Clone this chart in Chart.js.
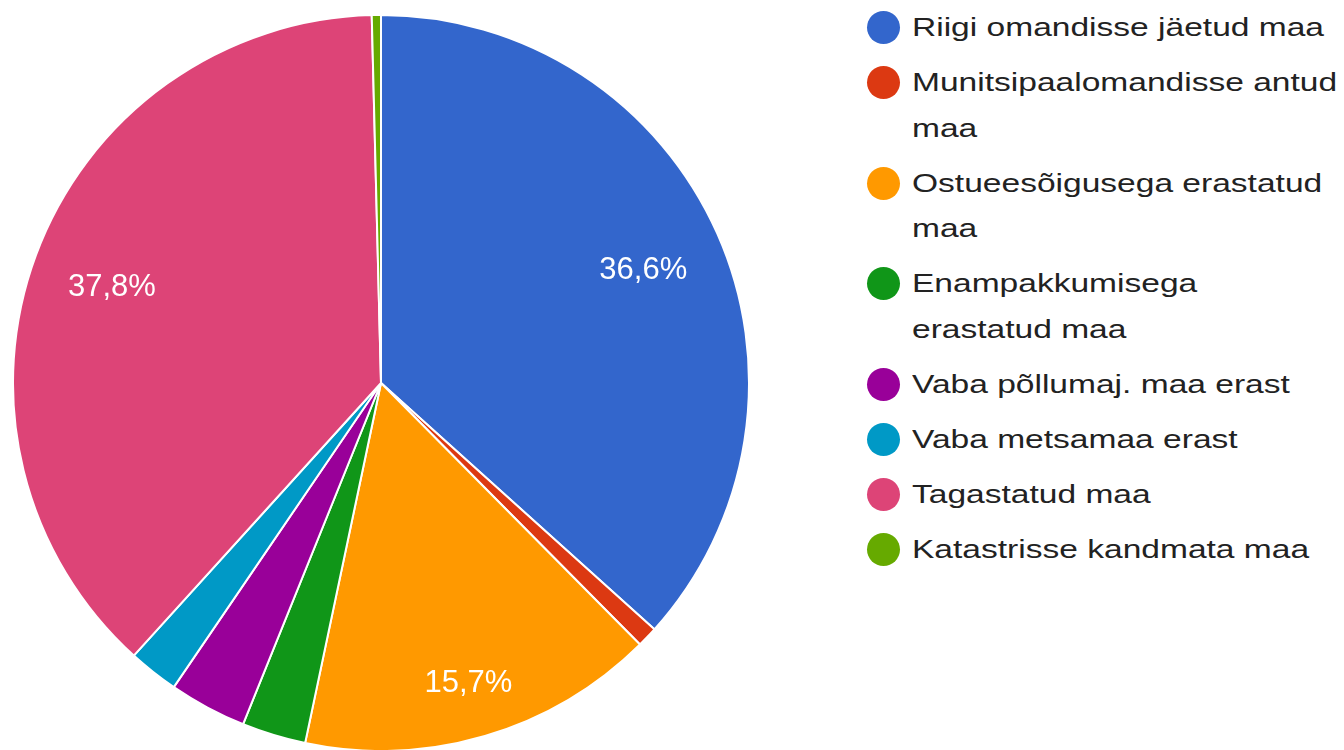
<!DOCTYPE html>
<html>
<head>
<meta charset="utf-8">
<script src="https://cdn.jsdelivr.net/npm/chart.js"></script>
<style>
  body { margin: 0; background: #fff; width: 1344px; height: 750px; overflow: hidden; position: relative; font-family: "Liberation Sans", Arial, sans-serif; }
  #wrap { position: absolute; left: 12px; top: 14px; width: 738px; height: 738px; }
  #legend { position: absolute; left: 867px; top: 5px; }
  .item { display: flex; align-items: flex-start; margin-bottom: 9.5px; }
  .dot { width: 33px; height: 33px; border-radius: 50%; margin-top: 6px; margin-right: 12px; flex: none; }
  .txt { font-size: 26px; line-height: 45.5px; color: #222; white-space: pre-line; transform: scaleX(1.29); transform-origin: left center; }
</style>
</head>
<body>
<div id="wrap"><canvas id="pie" width="738" height="738"></canvas></div>
<div id="legend"></div>
<script>
var kategooriad = [
  "Riigi omandisse jäetud maa",
  "Munitsipaalomandisse antud\nmaa",
  "Ostueesõigusega erastatud\nmaa",
  "Enampakkumisega\nerastatud maa",
  "Vaba põllumaj. maa erast",
  "Vaba metsamaa erast",
  "Tagastatud maa",
  "Katastrisse kandmata maa"
];
var protsendid = [36.6, 0.9, 15.7, 2.8, 3.4, 2.2, 37.8, 0.4];
var varvid = ['#3366cc', '#dc3912', '#ff9900', '#109618', '#990099', '#0099c6', '#dd4477', '#66aa00'];

// legend as html
var leg = document.getElementById("legend");
kategooriad.forEach(function (k, i) {
  var d = document.createElement("div");
  d.className = "item";
  d.innerHTML = '<span class="dot" style="background:' + varvid[i] + '"></span><span class="txt"></span>';
  d.querySelector(".txt").textContent = k;
  leg.appendChild(d);
});

// percent labels inside the bigger slices
var protsendiSildid = {
  id: 'protsendiSildid',
  afterDatasetsDraw: function (chart) {
    var ctx = chart.ctx;
    var meta = chart.getDatasetMeta(0);
    ctx.save();
    ctx.fillStyle = '#fff';
    ctx.font = '31px "Liberation Sans", Arial, sans-serif';
    ctx.textAlign = 'center';
    ctx.textBaseline = 'middle';
    meta.data.forEach(function (arc, i) {
      var v = protsendid[i];
      if (v < 5) return;
      var a = (arc.startAngle + arc.endAngle) / 2;
      var span = arc.endAngle - arc.startAngle;
      var f = span < Math.PI / 2 ? 0.84 : 0.78;
      var r = arc.outerRadius * f;
      ctx.fillText(v.toFixed(1).replace('.', ',') + '%', arc.x + Math.cos(a) * r, arc.y + Math.sin(a) * r + 4);
    });
    ctx.restore();
  }
};

var pie = new Chart(document.getElementById("pie"), {
  type: 'pie',
  data: {
    labels: kategooriad,
    datasets: [{
      data: protsendid,
      backgroundColor: varvid,
      borderColor: '#fff',
      borderWidth: 2
    }]
  },
  options: {
    responsive: false,
    animation: false,
    plugins: {
      legend: { display: false },
      tooltip: { enabled: false }
    }
  },
  plugins: [protsendiSildid]
});
</script>
</body>
</html>
